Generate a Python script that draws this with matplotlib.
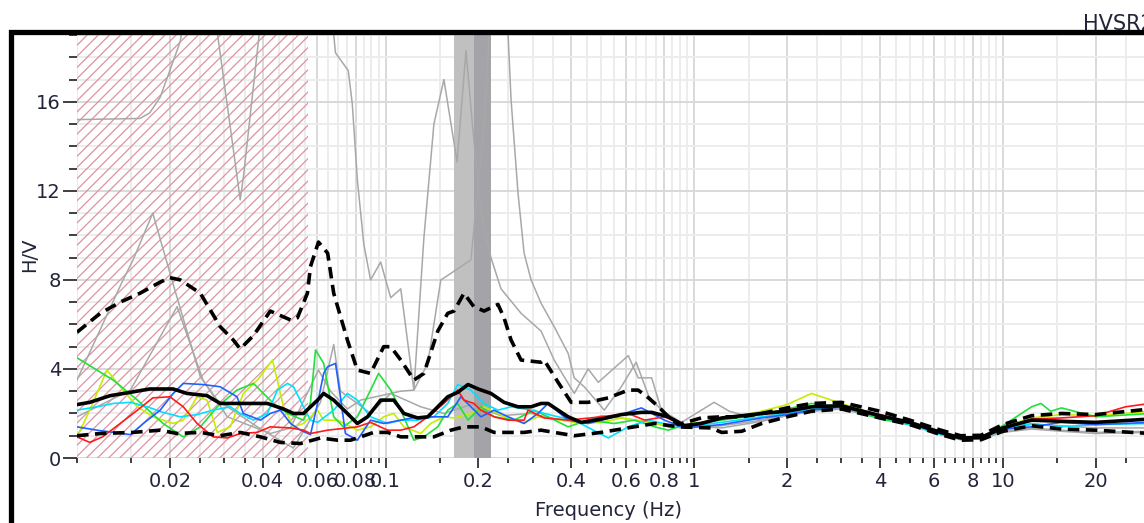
import numpy as np
import matplotlib.pyplot as plt
from matplotlib.lines import Line2D
from matplotlib.ticker import FixedLocator, FixedFormatter, NullFormatter

# ---- values (frequency in Hz, H/V ratio) ----
mean_f = [.0100, .0110, .0128, .0149, .0172, .0205, .0227, .0264, .0291, .0321, .0414, .0467, .0503,
          .0542, .0602, .0630, .0679, .0752, .0810, .0874, .0964, .1063, .1146, .1270, .1370, .1476,
          .1590, .1713, .1850, .1995, .2195, .2420, .2686, .2961, .3191, .3361, .3904, .4304, .4999,
          .5806, .6743, .7283, .8247, .931, 1.054, 1.23, 1.66, 2.0, 2.4, 3.0, 4.0, 5.0, 6.3, 7.3, 8.5,
          10, 12.4, 15.5, 20, 30]
mean_hv = [2.4, 2.5, 2.8, 2.95, 3.1, 3.1, 2.9, 2.8, 2.45, 2.45, 2.45, 2.2, 2.0,
           2.0, 2.6, 2.9, 2.6, 2.0, 1.55, 1.85, 2.6, 2.6, 2.0, 1.8, 1.85, 2.3,
           2.75, 2.95, 3.3, 3.1, 2.9, 2.5, 2.3, 2.3, 2.45, 2.45, 1.85, 1.6, 1.75,
           1.95, 2.05, 2.05, 1.85, 1.45, 1.55, 1.8, 2.0, 2.1, 2.3, 2.35, 1.9, 1.6, 1.15, 0.9, 0.92,
           1.35, 1.7, 1.65, 1.6, 1.75]

upper_f = [.0100, .0119, .0138, .0160, .0186, .0200, .0216, .0251, .0291, .0321, .0338, .0373, .0423,
           .0456, .0492, .0518, .0558, .0571, .0606, .0649, .0679, .0752, .0810, .0894, .0986, .1039,
           .1120, .1235, .1331, .1476, .1590, .1666, .1795, .1931, .2085, .2313, .2420, .2550, .2748,
           .3191, .3264, .3622, .3994, .4533, .5267, .6116, .6584, .7112, .7670, .8247, .8875, 1.054,
           1.227, 1.425, 1.655, 2.0, 2.4, 3.0, 4.0, 5.0, 6.3, 7.3, 8.5, 10, 12.4, 15.5, 20, 30]
upper_hv = [5.65, 6.5, 7.0, 7.4, 7.9, 8.1, 8.0, 7.4, 5.9, 5.3, 4.9, 5.5, 6.6,
            6.4, 6.2, 6.3, 7.4, 8.6, 9.7, 9.2, 7.4, 5.3, 3.95, 3.8, 5.0, 5.0,
            4.4, 3.5, 3.8, 5.7, 6.5, 6.6, 7.4, 6.8, 6.6, 6.9, 6.3, 5.3, 4.4,
            4.3, 4.4, 3.4, 2.5, 2.5, 2.7, 3.05, 3.05, 2.7, 2.3, 1.85, 1.5, 1.8,
            1.85, 1.85, 2.0, 2.25, 2.45, 2.5, 2.1, 1.7, 1.25, 1.0, 1.02, 1.5, 1.9, 2.0, 1.95, 2.2]

lower_f = [.0100, .0119, .0152, .0186, .0211, .0251, .0291, .0338, .0393, .0456, .0530, .0615, .0699,
           .0770, .0830, .0915, .1015, .1120, .1434, .1628, .1795, .2037, .2246, .2811, .3191, .4086,
           .4999, .6391, .7449, .8875, 1.135, 1.227, 1.425, 1.655, 2.0, 2.4, 3.0, 4.0, 5.0, 6.3, 7.3,
           8.5, 10, 12.4, 15.5, 20, 30]
lower_hv = [1.0, 1.1, 1.15, 1.25, 1.1, 1.15, 1.0, 1.15, 0.95, 0.7, 0.65, 0.9, 0.8,
            0.8, 0.95, 1.15, 1.15, 0.95, 0.95, 1.25, 1.4, 1.4, 1.15, 1.15, 1.25, 1.0,
            1.15, 1.4, 1.55, 1.4, 1.35, 1.15, 1.2, 1.55, 1.85, 2.1, 2.2, 1.8, 1.5, 1.05, 0.8,
            0.82, 1.2, 1.45, 1.3, 1.25, 1.1]

green_f = [.0100, .0131, .0157, .0190, .0221, .0251, .0285, .0330, .0373, .0402, .0433, .0481, .0542,
           .0571, .0593, .0630, .0679, .0730, .0810, .0894, .0949, .1039, .1120, .1235, .1331, .1476,
           .1590, .1713, .1850, .2037, .2246, .2608, .3029, .3361, .3904, .4533, .5503, .6391, .7449,
           .8247, .931, 1.227, 1.655, 2.0, 2.4, 3.0, 4.0, 5.0, 6.3, 7.3, 8.5, 10, 12.4, 13.3, 14.3,
           15.5, 20, 30]
green_hv = [4.5, 3.5, 2.6, 1.55, 0.95, 1.4, 2.3, 3.05, 3.35, 2.9, 2.45, 2.0, 1.7,
            2.5, 4.85, 4.25, 1.85, 1.4, 1.85, 3.05, 3.8, 3.05, 2.15, 0.8, 0.95, 1.4,
            2.15, 2.45, 1.7, 2.3, 1.85, 1.7, 2.15, 1.85, 1.4, 1.7, 1.55, 1.7, 1.4,
            1.25, 1.5, 1.7, 1.95, 2.2, 2.45, 2.3, 1.75, 1.5, 1.1, 0.9, 0.95, 1.45, 2.3, 2.45, 2.1,
            2.25, 1.85, 2.0]

yellow_f = [.0100, .0110, .0125, .0141, .0157, .0176, .0205, .0221, .0245, .0264, .0285, .0314, .0346,
            .0384, .0430, .0467, .0503, .0542, .0602, .0630, .0699, .0810, .0894, .0986, .1063, .1146,
            .1300, .1401, .1545, .1666, .1890, .2085, .2313, .2550, .2811, .3118, .3706, .4304, .4999,
            .5806, .6743, .7831, .931, 1.227, 1.655, 2.0, 2.4, 3.0, 4.0, 5.0, 6.3, 7.3, 8.5, 10, 12.4,
            15.5, 20, 30]
yellow_hv = [0.95, 2.15, 3.95, 3.05, 2.3, 1.85, 1.55, 1.7, 2.75, 2.6, 1.15, 1.4, 2.9,
             3.5, 4.4, 2.3, 1.4, 1.55, 2.15, 1.7, 1.7, 1.25, 1.4, 1.85, 2.0, 1.4,
             1.1, 1.55, 1.85, 1.8, 2.0, 2.3, 2.0, 1.7, 1.6, 1.85, 1.7, 1.55, 1.6,
             1.8, 1.65, 1.5, 1.5, 1.75, 2.1, 2.4, 2.9, 2.45, 1.9, 1.6, 1.15, 0.92, 0.95, 1.4, 1.8,
             1.95, 1.9, 2.1]

blue_f = [.0100, .0116, .0149, .0164, .0186, .0205, .0221, .0256, .0291, .0330, .0346, .0393, .0423,
          .0456, .0492, .0530, .0571, .0602, .0630, .0649, .0688, .0714, .0741, .0810, .0894, .0986,
          .1120, .1270, .1590, .1754, .1890, .2037, .2246, .2495, .2811, .3118, .3361, .3904, .4533,
          .5503, .6743, .8010, .931, 1.227, 1.655, 2.0, 2.4, 3.0, 4.0, 5.0, 6.3, 7.3, 8.5, 10, 12.4,
          15.5, 20, 30]
blue_hv = [1.4, 1.25, 1.05, 1.55, 2.15, 2.9, 3.35, 3.3, 3.2, 2.75, 2.0, 1.7, 2.0,
           2.15, 1.55, 1.25, 1.05, 2.45, 3.8, 4.1, 4.25, 2.75, 1.1, 0.8, 1.7, 1.55,
           1.7, 1.85, 1.85, 2.75, 2.3, 1.85, 2.15, 1.85, 1.55, 2.0, 2.45, 1.7, 1.55,
           1.85, 2.25, 1.7, 1.35, 1.5, 1.8, 1.95, 2.15, 2.3, 1.85, 1.55, 1.1, 0.88, 0.9, 1.3, 1.4,
           1.6, 1.5, 1.6]

red_f = [.0100, .0110, .0121, .0138, .0157, .0176, .0200, .0221, .0245, .0276, .0307, .0338, .0384,
         .0423, .0492, .0542, .0571, .0649, .0810, .0894, .1015, .1120, .1235, .1370, .1545, .1713,
         .1795, .1931, .2037, .2246, .2495, .2811, .2894, .3264, .3904, .4999, .6116, .6906, .8010,
         .931, 1.227, 1.655, 2.0, 2.4, 3.0, 4.0, 5.0, 6.3, 7.3, 8.5, 10, 12.4, 15.5, 20, 25, 30]
red_hv = [0.95, 0.7, 0.95, 1.55, 2.15, 2.7, 2.75, 2.3, 1.55, 0.95, 0.9, 1.1, 1.15,
          1.4, 1.35, 1.25, 1.1, 1.25, 1.4, 1.6, 1.25, 1.25, 1.4, 1.85, 2.45, 3.05,
          2.6, 2.45, 2.15, 1.85, 1.7, 1.7, 2.15, 1.8, 1.7, 1.85, 2.0, 1.7, 1.85,
          1.45, 1.75, 2.0, 2.15, 2.3, 2.35, 1.95, 1.6, 1.15, 0.9, 0.92, 1.35, 1.75, 1.8, 1.9, 2.3, 2.45]

cyan_f = [.0100, .0116, .0131, .0149, .0169, .0190, .0216, .0245, .0276, .0314, .0338, .0373, .0414,
          .0446, .0481, .0503, .0542, .0571, .0602, .0679, .0752, .0810, .0894, .1015, .1120, .1270,
          .1434, .1590, .1713, .1890, .2085, .2313, .2550, .2961, .3622, .4086, .5267, .6116, .7112,
          .8247, .931, 1.227, 1.655, 2.0, 2.4, 3.0, 4.0, 5.0, 6.3, 7.3, 8.5, 10, 12.4, 15.5, 20, 30]
cyan_hv = [2.15, 2.3, 2.45, 2.5, 2.3, 2.05, 1.85, 1.95, 2.15, 2.3, 2.0, 1.7, 2.0,
           3.05, 3.35, 3.2, 2.3, 1.7, 1.6, 2.15, 2.9, 2.6, 1.85, 1.55, 1.7, 1.7,
           1.85, 2.45, 3.3, 3.05, 2.45, 2.15, 2.3, 2.15, 1.85, 1.7, 0.9, 1.4, 1.7,
           1.5, 1.4, 1.6, 1.85, 2.0, 2.2, 2.3, 1.85, 1.5, 1.05, 0.85, 0.88, 1.3, 1.55, 1.4, 1.5, 1.55]

# grey single-window curves (several run off the top of the chart)
grey1_f = [.0100, .0160, .0172, .0186, .0216, .0226, .0276, .0338, .0346, .0400, .0663, .0688, .0757,
           .0780, .0810, .0850, .0894, .0964, .1039, .1120, .1235, .1331, .1434, .1545, .1705, .1822,
           .1917, .2037, .2195, .2366, .2748, .3191, .3518, .4086, .4533, .4888, .6116, .6584, .7283,
           .7831, .9095, 1.16, 1.30, 1.66, 2.0, 2.4, 3.0, 4.0, 5.0, 6.3, 7.3, 8.5, 10, 12.4, 15.5,
           20, 30]
grey1_hv = [15.2, 15.25, 15.5, 16.2, 18.7, 20.5, 20.5, 11.6, 12.6, 20.5, 20.5, 18.2, 17.4,
            15.9, 12.5, 9.6, 8.0, 8.8, 7.2, 7.6, 3.05, 9.9, 15.0, 17.0, 13.3, 18.3,
            14.8, 11.0, 9.0, 7.6, 6.5, 5.7, 4.4, 2.9, 4.0, 3.4, 4.6, 3.6, 3.6,
            2.15, 1.6, 2.5, 2.1, 1.7, 1.9, 2.1, 2.2, 1.8, 1.5, 1.05, 0.85, 0.85, 1.2, 1.35, 1.25,
            1.15, 1.2]

grey2_f = [.0100, .0141, .0152, .0176, .0205, .0251, .0285, .0384, .0467, .0503, .0542, .0615, .0679,
           .0714, .0810, .0894, .1039, .1120, .1235, .1370, .1510, .1590, .1890, .2085, .2195, .2420,
           .2495, .2550, .2686, .2811, .2961, .3191, .3518, .3904, .4086, .4402, .5114, .5806, .6487,
           .7112, .8010, .9095, 1.23, 1.66, 2.0, 2.4, 3.0, 4.0, 5.0, 6.3, 7.3, 8.5, 10, 12.4, 15.5,
           20, 30]
grey2_hv = [3.5, 8.0, 8.9, 11.0, 7.8, 3.65, 2.6, 1.4, 0.7, 0.45, 1.2, 2.5, 5.1,
            3.0, 2.45, 2.0, 2.9, 3.0, 3.05, 4.25, 8.0, 8.2, 8.9, 15.0, 20.5, 20.5,
            19.0, 16.1, 11.9, 9.2, 8.0, 6.95, 5.9, 4.7, 3.6, 3.2, 2.15, 3.2, 4.3,
            2.8, 2.0, 1.45, 1.35, 1.65, 1.9, 2.1, 2.25, 1.85, 1.55, 1.1, 0.85, 0.88, 1.25, 1.5, 1.45,
            1.35, 1.35]

grey3_f = [.0100, .0149, .0211, .0256, .0307, .0423, .0492, .0606, .0663, .0752, .0830, .1039, .1300,
           .1545, .1890, .2366, .2961, .3439, .4304, .4999, .6116, .7283, .8247, .931, 1.23, 1.66,
           2.0, 2.4, 3.0, 4.0, 5.0, 6.3, 7.3, 8.5, 10, 12.4, 15.5, 20, 30]
grey3_hv = [1.85, 3.05, 6.8, 3.5, 1.85, 1.1, 1.35, 3.95, 3.0, 2.2, 2.6, 2.9, 2.3,
            2.0, 2.4, 1.9, 2.0, 1.8, 1.6, 1.9, 1.75, 1.6, 1.4, 1.35, 1.45, 1.7,
            2.0, 2.2, 2.3, 1.8, 1.5, 1.05, 0.82, 0.85, 1.15, 1.3, 1.2, 1.1, 1.15]

# rejected low-frequency range and the f0 band
rejected_range = (0.01, 0.0561)
f0_band_light = (0.166, 0.193)
f0_band_dark = (0.193, 0.219)

x_major = [0.02, 0.04, 0.06, 0.08, 0.1, 0.2, 0.4, 0.6, 0.8, 1, 2, 4, 6, 8, 10, 20]
x_labels = ['0.02', '0.04', '0.06', '0.08', '0.1', '0.2', '0.4', '0.6', '0.8', '1',
            '2', '4', '6', '8', '10', '20']
y_major = [0, 4, 8, 12, 16]

W, H = 1144, 523
fig = plt.figure(figsize=(W / 100, H / 100), dpi=100)
ax = fig.add_axes([77 / W, 1 - 458 / H, (1150 - 77) / W, (458 - 35) / H])
ax.set_xscale('log')
ax.set_xlim(0.01, 30)
ax.set_ylim(0, 19)
ax.set_axisbelow(True)
for s in ax.spines.values():
    s.set_visible(False)

# ticks: labelled majors, minor every half step of each decade
x_minor = [d * m for d in (0.01, 0.1, 1, 10) for m in np.arange(1, 10, 0.5)]
ax.xaxis.set_major_locator(FixedLocator(x_major))
ax.xaxis.set_major_formatter(FixedFormatter(x_labels))
ax.xaxis.set_minor_locator(FixedLocator(x_minor))
ax.xaxis.set_minor_formatter(NullFormatter())
ax.yaxis.set_major_locator(FixedLocator(y_major))
ax.yaxis.set_minor_locator(FixedLocator(list(range(0, 20))))

txt = '#22243a'
ax.tick_params(which='both', direction='out', color='#303030', width=1.3,
               labelsize=14, labelcolor=txt)
ax.tick_params(axis='x', which='major', length=7, pad=3)
ax.tick_params(axis='x', which='minor', length=3.5)
ax.tick_params(axis='y', which='major', length=10, pad=1.5)
ax.tick_params(axis='y', which='minor', length=5.5)
ax.grid(which='major', color='#d9d9d9', lw=1.4)
ax.grid(which='minor', color='#ececec', lw=1.4)

plt.rcParams['hatch.linewidth'] = 0.9
ax.axvspan(*rejected_range, facecolor='none', edgecolor='#dc93a2', hatch='///', lw=0, zorder=1)
ax.axvspan(*f0_band_light, facecolor='#c0c0c0', lw=0, zorder=1)
ax.axvspan(*f0_band_dark, facecolor='#a3a3a8', lw=0, zorder=1)

for f, hv in [(grey1_f, grey1_hv), (grey2_f, grey2_hv), (grey3_f, grey3_hv)]:
    ax.plot(f, hv, color='#a8a8a8', lw=1.1, zorder=2)

ax.plot(yellow_f, yellow_hv, color='#c4ee00', lw=1.2, zorder=3)
ax.plot(green_f, green_hv, color='#22e03a', lw=1.2, zorder=3)
ax.plot(cyan_f, cyan_hv, color='#00e0ff', lw=1.2, zorder=3)
ax.plot(blue_f, blue_hv, color='#2060ff', lw=1.2, zorder=3)
ax.plot(red_f, red_hv, color='#ff1a1a', lw=1.2, zorder=3)

ax.plot(mean_f, mean_hv, color='black', lw=2.6, zorder=5)
ax.plot(upper_f, upper_hv, color='black', lw=2.6, ls=(0, (3.2, 1.8)), zorder=5)
ax.plot(lower_f, lower_hv, color='black', lw=2.6, ls=(0, (3.2, 1.8)), zorder=5)

fig.text(30 / W, 1 - 255 / H, 'H/V', rotation=90, ha='center', va='center',
         fontsize=14, color=txt)
fig.text(609 / W, 1 - 510 / H, 'Frequency (Hz)', ha='center', va='center',
         fontsize=14, color=txt)
fig.text(1083 / W, 1 - 30 / H, 'HVSR2', ha='left', va='baseline', fontsize=15, color=txt)

# outer panel frame (top and left edges only are in view)
fig.add_artist(Line2D([11 / W, 11 / W, 1.0], [0.0, 1 - 32 / H, 1 - 32 / H],
                      color='black', lw=3.8, solid_joinstyle='miter',
                      transform=fig.transFigure))

fig.savefig('out.png', dpi=100)
